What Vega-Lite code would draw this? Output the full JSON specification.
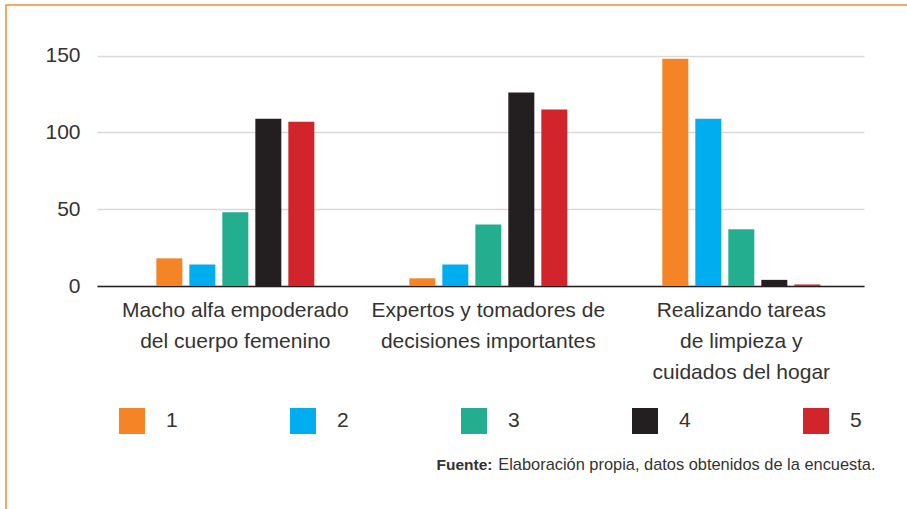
{
  "$schema": "https://vega.github.io/schema/vega-lite/v6.json",
  "width": 904,
  "height": 507,
  "autosize": {"type": "none"},
  "padding": {"left": 6, "top": 5, "right": -3, "bottom": -3},
  "background": "white",
  "config": {
    "font": "Liberation Sans",
    "view": {"stroke": "#f58a34", "strokeWidth": 1.5},
    "axis": {"labelColor": "#333333", "titleColor": "#333333"}
  },
  "data": {
    "values": [
      {"group": "Macho alfa empoderado del cuerpo femenino", "rating": "1", "value": 18},
      {"group": "Macho alfa empoderado del cuerpo femenino", "rating": "2", "value": 14},
      {"group": "Macho alfa empoderado del cuerpo femenino", "rating": "3", "value": 48},
      {"group": "Macho alfa empoderado del cuerpo femenino", "rating": "4", "value": 109},
      {"group": "Macho alfa empoderado del cuerpo femenino", "rating": "5", "value": 107},
      {"group": "Expertos y tomadores de decisiones importantes", "rating": "1", "value": 5},
      {"group": "Expertos y tomadores de decisiones importantes", "rating": "2", "value": 14},
      {"group": "Expertos y tomadores de decisiones importantes", "rating": "3", "value": 40},
      {"group": "Expertos y tomadores de decisiones importantes", "rating": "4", "value": 126},
      {"group": "Expertos y tomadores de decisiones importantes", "rating": "5", "value": 115},
      {"group": "Realizando tareas de limpieza y cuidados del hogar", "rating": "1", "value": 148},
      {"group": "Realizando tareas de limpieza y cuidados del hogar", "rating": "2", "value": 109},
      {"group": "Realizando tareas de limpieza y cuidados del hogar", "rating": "3", "value": 37},
      {"group": "Realizando tareas de limpieza y cuidados del hogar", "rating": "4", "value": 4},
      {"group": "Realizando tareas de limpieza y cuidados del hogar", "rating": "5", "value": 1}
    ]
  },
  "mark": {"type": "bar"},
  "encoding": {
    "x": {
      "field": "group",
      "type": "nominal",
      "sort": null,
      "scale": {
        "domain": [
          "Macho alfa empoderado del cuerpo femenino",
          "Expertos y tomadores de decisiones importantes",
          "Realizando tareas de limpieza y cuidados del hogar"
        ],
        "range": [91, 858],
        "paddingInner": 0.3755,
        "paddingOuter": 0.2036,
        "align": 0.576
      },
      "axis": {
        "orient": "bottom",
        "offset": -226,
        "labelAngle": 0,
        "labelExpr": "datum.value == 'Macho alfa empoderado del cuerpo femenino' ? ['Macho alfa empoderado', 'del cuerpo femenino'] : datum.value == 'Expertos y tomadores de decisiones importantes' ? ['Expertos y tomadores de', 'decisiones importantes'] : ['Realizando tareas', 'de limpieza y', 'cuidados del hogar']",
        "labelFontSize": 21,
        "labelLineHeight": 31,
        "labelPadding": 13,
        "labelLimit": 400,
        "ticks": false,
        "domainColor": "#231f20",
        "domainWidth": 1.5,
        "grid": false,
        "title": "Elaboración propia, datos obtenidos de la encuesta.",
        "titleAlign": "right",
        "titleBaseline": "alphabetic",
        "titleX": 869,
        "titleY": 183,
        "titleFontSize": 16.4,
        "titleFontWeight": "normal"
      }
    },
    "xOffset": {
      "field": "rating",
      "type": "nominal",
      "scale": {"paddingInner": 0.212, "paddingOuter": 0}
    },
    "y": {
      "field": "value",
      "type": "quantitative",
      "scale": {"domain": [0, 150], "range": [281, 50.67], "nice": false, "zero": true},
      "axis": {
        "offset": -91,
        "values": [0, 50, 100, 150],
        "domain": false,
        "ticks": false,
        "labelPadding": 17,
        "labelFontSize": 21,
        "gridColor": "#d9d9d9",
        "gridWidth": 1.5,
        "title": "Fuente:",
        "titleAngle": 0,
        "titleAlign": "left",
        "titleBaseline": "alphabetic",
        "titleX": 339,
        "titleY": 464,
        "titleFontSize": 15.5,
        "titleFontWeight": "bold"
      }
    },
    "color": {
      "field": "rating",
      "type": "nominal",
      "scale": {
        "domain": ["1", "2", "3", "4", "5"],
        "range": ["#f58426", "#00adee", "#23af8f", "#231f20", "#d2242b"]
      },
      "legend": {
        "orient": "none",
        "legendX": 113,
        "legendY": 403,
        "direction": "horizontal",
        "columns": 5,
        "title": null,
        "symbolType": "square",
        "symbolSize": 676,
        "symbolStrokeWidth": 0,
        "symbolOpacity": 1,
        "labelFontSize": 21,
        "labelOffset": 21,
        "labelColor": "#333333",
        "columnPadding": 112,
        "padding": 0
      }
    }
  }
}
